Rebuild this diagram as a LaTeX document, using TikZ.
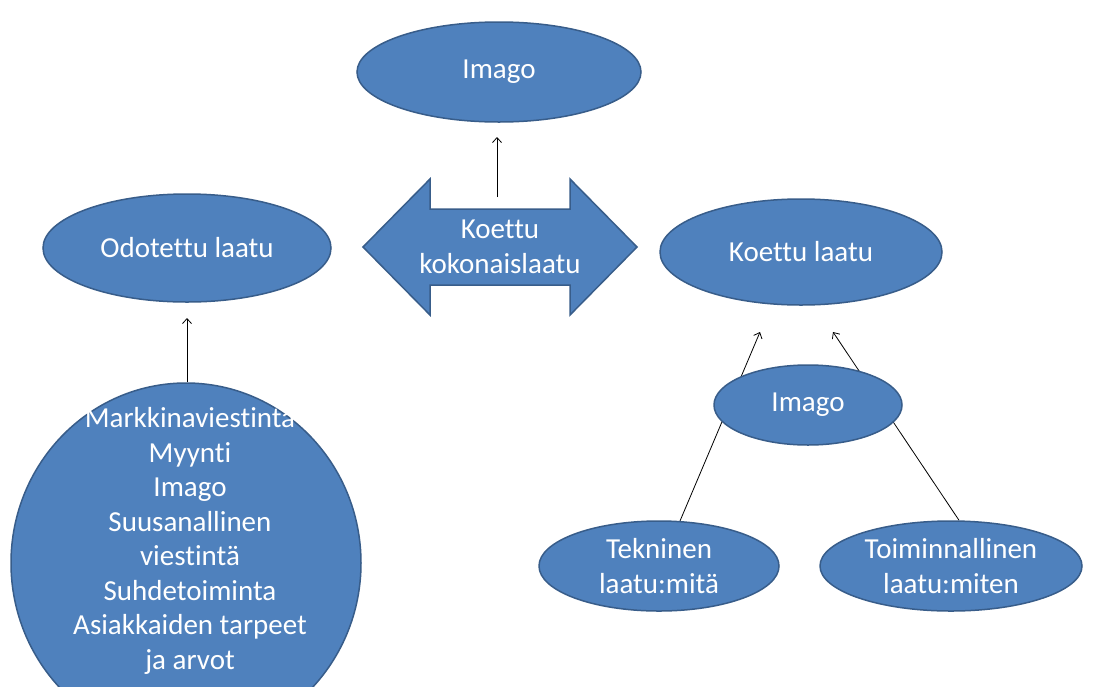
\documentclass[tikz,border=0pt]{standalone}
\usepackage{fontspec}
\setmainfont{Carlito}[Ligatures=NoCommon]
\usetikzlibrary{shapes.geometric,arrows.meta}
\pgfdeclarelayer{paper}
\pgfdeclarelayer{lines}
\pgfsetlayers{paper,lines,main}
\definecolor{bluefill}{HTML}{4F81BD}
\definecolor{blueline}{HTML}{385D8A}
\tikzset{
  oval/.style={ellipse, draw=blueline, line width=1.5pt, fill=bluefill, text=white, inner sep=0pt, align=center,
    font=\fontsize{29}{34.5}\selectfont},
  arr/.style={draw=black, line width=0.8pt, -{Straight Barb[length=5pt,width=9pt]}},
  bigarrow/.style={draw=blueline, line width=1.5pt, fill=bluefill},
  lbl/.style={text=white, align=center, font=\fontsize{29}{34.5}\selectfont}
}
\begin{document}
\begin{tikzpicture}[x=1pt,y=-1pt]
\begin{pgfonlayer}{paper}
\fill[white] (0,0) rectangle (1094,686);
\end{pgfonlayer}
\useasboundingbox (0,0) rectangle (1094,686);
% nodes
\node[oval, minimum width=284pt, minimum height=100pt] (imgtop) at (499,72) {Imago};
\node[oval, minimum width=288pt, minimum height=108pt] (odot) at (187,248) {Odotettu laatu};
\node[oval, minimum width=350pt, minimum height=360pt] (big) at (186,563) {};
\node[lbl] (bigtxt) at (190,541)
  {Markkinaviestintä\\Myynti\\Imago\\Suusanallinen\\viestintä\\Suhdetoiminta\\Asiakkaiden tarpeet\\ja arvot};
\node[oval, minimum width=282pt, minimum height=106pt] (koettu) at (801,252) {Koettu laatu};
\node[oval, minimum width=188pt, minimum height=80pt] (imgsmall) at (808,405) {Imago};
\node[oval, minimum width=240pt, minimum height=90pt] (tek) at (659,566) {Tekninen\\laatu:mitä};
\node[oval, minimum width=262pt, minimum height=90pt] (toim) at (951,566) {Toiminnallinen\\laatu:miten};
% double arrow
\path[bigarrow] (363,247) -- (430,179) -- (430,209) -- (570,209) -- (570,179) -- (637,247)
  -- (570,315) -- (570,285) -- (430,285) -- (430,315) -- cycle;
\node[lbl] (kok) at (500,247) {Koettu\\kokonaislaatu};
% coordinates
\coordinate (c1) at (497,197);
\coordinate (c2) at (497,137);
\coordinate (c3) at (187,318);
\coordinate (a1) at (760,332);
\coordinate (a2) at (833,332);
% connectors
\draw[arr] (c1) -- (c2);
\draw[arr] (c3 |- big.north) -- (c3);
\begin{pgfonlayer}{lines}
\draw[arr] (tek.65) -- (a1);
\draw[arr] (toim.80) -- (a2);
\end{pgfonlayer}
\end{tikzpicture}
\end{document}
